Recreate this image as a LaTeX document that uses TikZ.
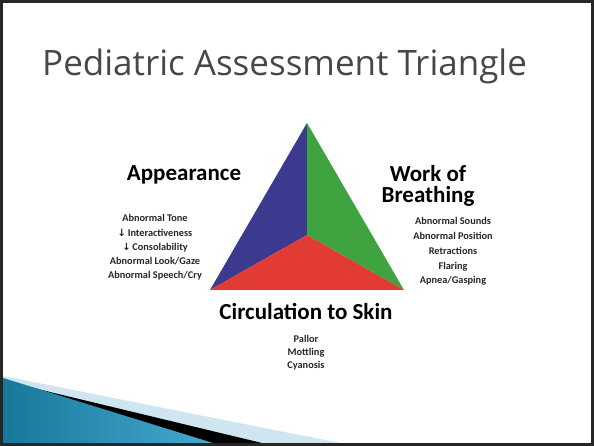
\documentclass[tikz,border=0pt]{standalone}
\usepackage{fontspec}
\setmainfont{Carlito}
\newfontfamily\titlefont{Open Sans}
\newfontfamily\arrowfont{DejaVu Sans}
\usetikzlibrary{backgrounds}

\definecolor{patblue}{HTML}{3B3A8E}
\definecolor{patgreen}{HTML}{3FA440}
\definecolor{patred}{HTML}{E23B33}
\definecolor{titlegray}{HTML}{474747}
\definecolor{tealdark}{HTML}{17789A}
\definecolor{teallight}{HTML}{45A9CF}
\definecolor{paleblue}{HTML}{CFE5EF}

\newcommand{\dn}{{\arrowfont\bfseries\fontsize{10}{10}\selectfont ↓}\,}

\begin{document}
\begin{tikzpicture}[x=1pt,y=1pt,node distance=14.2pt,
        head/.style={font=\fontsize{23}{23}\selectfont\bfseries,inner sep=0pt,text height=16pt,text depth=5pt},
        item/.style={font=\fontsize{10.3}{10.3}\selectfont\bfseries,text=black!85,inner sep=0pt,text height=7.5pt,text depth=2.5pt}]

        \useasboundingbox (0,0) rectangle (594,446);

        \node [anchor=base west,inner sep=0pt,text=titlegray,font=\titlefont\fontsize{35}{35}\selectfont]
          (title) at (42,370) {Pediatric Assessment Triangle};

        \coordinate (top) at (307,323);
        \coordinate (bl)  at (210,156);
        \coordinate (br)  at (404,156);
        \coordinate (mid) at (307,211);

        \fill [patblue]  (top) -- (bl) -- (mid) -- cycle;
        \fill [patgreen] (top) -- (mid) -- (br) -- cycle;
        \fill [patred]   (bl) -- (br) -- (mid) -- cycle;

        \node [head]  (app)  at (184,270.5) {Appearance};
        \node [item]  (a1)   at (155,226.5) {Abnormal Tone};
        \node [item]  (a2)   [below of=a1] {\dn Interactiveness};
        \node [item]  (a3)   [below of=a2] {\dn Consolability};
        \node [item]  (a4)   [below of=a3] {Abnormal Look/Gaze};
        \node [item]  (a5)   [below of=a4] {Abnormal Speech/Cry};

        \node [head]  (wob1) at (428,269.5) {Work of};
        \node [head]  (wob2) [below of=wob1, node distance=21pt] {Breathing};
        \node [item]  (b1)   at (453,223.5) {Abnormal Sounds};
        \node [item]  (b2)   [below of=b1, node distance=14.7pt] {Abnormal Position};
        \node [item]  (b3)   [below of=b2, node distance=14.7pt] {Retractions};
        \node [item]  (b4)   [below of=b3, node distance=14.7pt] {Flaring};
        \node [item]  (b5)   [below of=b4, node distance=14.7pt] {Apnea/Gasping};

        \node [head]  (circ) at (306,131.5) {Circulation to Skin};
        \node [item]  (c1)   at (306,105.5) {Pallor};
        \node [item]  (c2)   [below of=c1, node distance=13pt] {Mottling};
        \node [item]  (c3)   [below of=c2, node distance=13pt] {Cyanosis};

        \begin{pgfonlayer}{background}
          \fill [paleblue] (3,70) -- (340,3) -- (3,3) -- cycle;
          \fill [black] (3,66) -- (50,54) -- (262,3) -- (3,3) -- cycle;
          \shade [left color=tealdark,right color=teallight] (3,68) -- (213,3) -- (3,3) -- cycle;
        \end{pgfonlayer}

        \draw [line width=3pt,black!85] (1.5,1.5) rectangle (592.5,444.5);
      \end{tikzpicture}
\end{document}
